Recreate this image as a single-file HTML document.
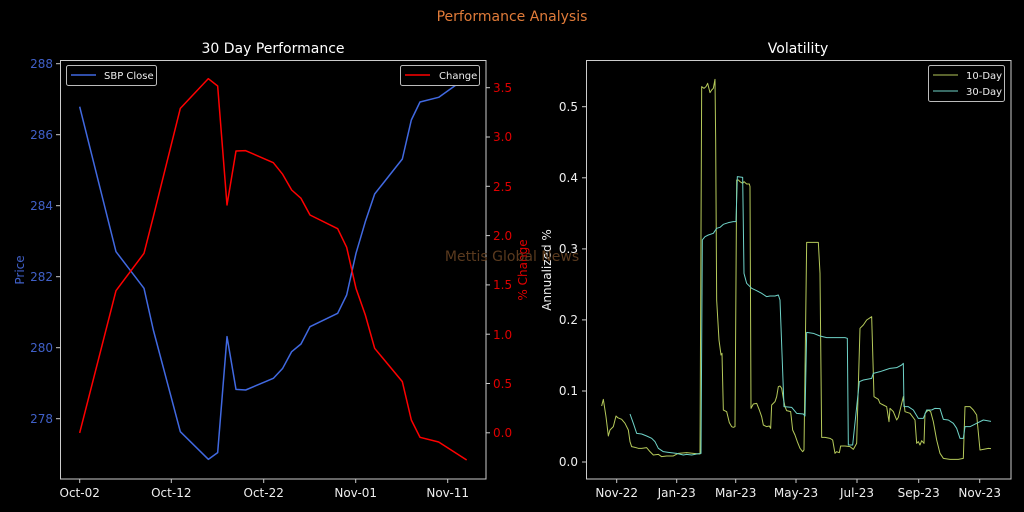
<!DOCTYPE html>
<html><head><meta charset="utf-8"><style>
body{margin:0;background:#000;width:1024px;height:512px;overflow:hidden}
svg{display:block}
text{font-family:"DejaVu Sans","Liberation Sans",sans-serif}
</style></head><body>
<svg width="1024" height="512" viewBox="0 0 1024 512" xmlns="http://www.w3.org/2000/svg">
<rect width="1024" height="512" fill="#000"/>
<text x="512" y="21" fill="#e07b39" font-size="14" text-anchor="middle">Performance Analysis</text>

<!-- LEFT -->
<text x="273" y="53" fill="#fff" font-size="14" text-anchor="middle">30 Day Performance</text>
<rect x="60.5" y="60.5" width="425.5" height="418.5" fill="none" stroke="#ccc" stroke-width="1"/>
<g fill="#4060c8" font-size="12" text-anchor="end">
<text x="53" y="68">288</text><text x="53" y="139">286</text><text x="53" y="210">284</text>
<text x="53" y="281">282</text><text x="53" y="352">280</text><text x="53" y="423">278</text>
</g>
<g stroke="#ccc"><line x1="56" y1="63.7" x2="60" y2="63.7"/><line x1="56" y1="134.7" x2="60" y2="134.7"/><line x1="56" y1="205.7" x2="60" y2="205.7"/><line x1="56" y1="276.7" x2="60" y2="276.7"/><line x1="56" y1="347.7" x2="60" y2="347.7"/><line x1="56" y1="418.7" x2="60" y2="418.7"/></g>
<g stroke="#ccc"><line x1="486" y1="87.7" x2="490" y2="87.7"/><line x1="486" y1="137" x2="490" y2="137"/><line x1="486" y1="186.3" x2="490" y2="186.3"/><line x1="486" y1="235.6" x2="490" y2="235.6"/><line x1="486" y1="284.9" x2="490" y2="284.9"/><line x1="486" y1="334.2" x2="490" y2="334.2"/><line x1="486" y1="383.5" x2="490" y2="383.5"/><line x1="486" y1="432.8" x2="490" y2="432.8"/></g>
<g fill="#e00000" font-size="12">
<text x="493" y="92">3.5</text><text x="493" y="141">3.0</text><text x="493" y="191">2.5</text><text x="493" y="240">2.0</text>
<text x="493" y="289">1.5</text><text x="493" y="339">1.0</text><text x="493" y="388">0.5</text><text x="493" y="437">0.0</text>
</g>
<text transform="translate(24,270) rotate(-90)" fill="#4060c8" font-size="12" text-anchor="middle">Price</text>
<text transform="translate(527,270) rotate(-90)" fill="#e00000" font-size="12" text-anchor="middle">% Change</text>
<g stroke="#ccc"><line x1="79.7" y1="479" x2="79.7" y2="483"/><line x1="171.3" y1="479" x2="171.3" y2="483"/><line x1="263.7" y1="479" x2="263.7" y2="483"/><line x1="355.7" y1="479" x2="355.7" y2="483"/><line x1="447.7" y1="479" x2="447.7" y2="483"/></g>
<g fill="#eee" font-size="12" text-anchor="middle">
<text x="79.7" y="497">Oct-02</text><text x="171.3" y="497">Oct-12</text><text x="263.7" y="497">Oct-22</text><text x="355.7" y="497">Nov-01</text><text x="447.7" y="497">Nov-11</text>
</g>
<g transform="translate(0,40) scale(0.33333)" fill="none" stroke-width="4.5" stroke-linejoin="round">
<polyline stroke="#4169e1" points="239,200 348,635 432,745 460,870 541,1175 625,1258 653,1238 681,890 708,1048 737,1050 820,1015 848,985 875,935 903,912 930,860 1013,820 1040,765 1068,640 1096,545 1124,462 1207,357 1234,240 1260,186 1316,172 1400,112"/>
<polyline stroke="#ff0000" points="239,1179 348,752 432,640 460,530 541,205 625,116 653,138 681,495 708,333 737,332 820,368 848,403 875,450 903,475 930,525 1013,566 1040,622 1068,745 1096,825 1124,925 1207,1025 1234,1140 1260,1192 1316,1206 1400,1260"/>
</g>
<rect x="66.5" y="65.5" width="90" height="20" rx="2" fill="#000" stroke="#bbb"/>
<line x1="71" y1="75" x2="96" y2="75" stroke="#4169e1" stroke-width="1.5"/>
<text x="104" y="79" fill="#eee" font-size="10">SBP Close</text>
<rect x="400.5" y="65.5" width="79" height="20" rx="2" fill="#000" stroke="#bbb"/>
<line x1="405" y1="75" x2="430" y2="75" stroke="#ff0000" stroke-width="1.5"/>
<text x="439" y="79" fill="#eee" font-size="10">Change</text>

<!-- RIGHT -->
<text x="798" y="53" fill="#fff" font-size="14" text-anchor="middle">Volatility</text>
<rect x="586.5" y="60.5" width="424.5" height="418.5" fill="none" stroke="#ccc"/>
<g fill="#eee" font-size="12" text-anchor="end">
<text x="578" y="111">0.5</text><text x="578" y="182">0.4</text><text x="578" y="253">0.3</text>
<text x="578" y="324">0.2</text><text x="578" y="395">0.1</text><text x="578" y="466">0.0</text>
</g>
<g stroke="#ccc"><line x1="582" y1="106.7" x2="586" y2="106.7"/><line x1="582" y1="177.8" x2="586" y2="177.8"/><line x1="582" y1="248.9" x2="586" y2="248.9"/><line x1="582" y1="319.9" x2="586" y2="319.9"/><line x1="582" y1="391" x2="586" y2="391"/><line x1="582" y1="462" x2="586" y2="462"/></g>
<text transform="translate(551,270) rotate(-90)" fill="#eee" font-size="12" text-anchor="middle">Annualized %</text>
<g stroke="#ccc"><line x1="616.7" y1="479" x2="616.7" y2="483"/><line x1="676.7" y1="479" x2="676.7" y2="483"/><line x1="735.7" y1="479" x2="735.7" y2="483"/><line x1="796" y1="479" x2="796" y2="483"/><line x1="857" y1="479" x2="857" y2="483"/><line x1="918.7" y1="479" x2="918.7" y2="483"/><line x1="979.7" y1="479" x2="979.7" y2="483"/></g>
<g fill="#eee" font-size="12" text-anchor="middle">
<text x="616.7" y="497">Nov-22</text><text x="676.7" y="497">Jan-23</text><text x="735.7" y="497">Mar-23</text><text x="796" y="497">May-23</text><text x="857" y="497">Jul-23</text><text x="918.7" y="497">Sep-23</text><text x="979.7" y="497">Nov-23</text>
</g>
<g transform="translate(520,40) scale(0.33333)" fill="none" stroke-width="3" stroke-linejoin="round">
<polyline stroke="#b5c95a" points="245,1098 250,1078 258,1130 265,1188 270,1170 280,1160 288,1128 293,1133 305,1138 315,1150 325,1170 330,1205 335,1220 345,1222 355,1225 365,1225 380,1223 390,1235 400,1245 415,1243 425,1250 440,1248 460,1248 475,1240 500,1238 520,1240 540,1242 545,140 552,145 558,140 563,130 570,158 575,150 580,145 585,118 587,300 590,780 597,900 603,945 606,940 610,1110 620,1115 628,1148 635,1160 640,1162 645,1160 650,420 655,420 660,425 668,430 672,425 680,432 688,432 690,440 693,1105 700,1092 710,1090 718,1110 725,1130 730,1155 740,1160 748,1158 752,1165 755,1095 765,1085 770,1070 775,1040 780,1038 785,1045 790,1075 795,1100 800,1112 812,1115 818,1170 825,1185 832,1205 840,1225 848,1235 852,1230 860,607 870,607 895,607 900,700 905,1192 915,1192 930,1195 938,1200 945,1240 950,1235 958,1238 962,1218 975,1218 990,1220 1000,1228 1010,1210 1020,865 1030,855 1040,840 1055,830 1062,1070 1075,1078 1080,1090 1090,1095 1100,1100 1107,1145 1110,1105 1120,1115 1130,1140 1135,1132 1150,1070 1155,1115 1170,1120 1185,1140 1190,1210 1195,1205 1200,1215 1205,1202 1212,1210 1215,1120 1225,1110 1232,1115 1240,1145 1250,1200 1260,1240 1270,1255 1290,1258 1315,1258 1330,1255 1335,1100 1350,1100 1360,1110 1370,1125 1380,1230 1390,1228 1405,1225 1413,1226"/>
<polyline stroke="#6fd3c8" points="330,1122 340,1150 350,1180 365,1182 380,1188 395,1195 405,1205 415,1225 430,1235 445,1237 470,1240 490,1245 500,1243 515,1245 530,1242 543,1240 547,600 555,590 565,585 580,580 590,565 600,562 610,553 625,548 640,545 648,545 652,410 668,412 672,700 680,730 695,745 710,752 725,760 740,770 750,768 765,768 775,765 780,780 792,1100 815,1102 830,1120 850,1122 855,1128 860,877 880,880 900,888 920,893 950,893 975,893 982,895 985,1215 998,1215 1018,1025 1030,1020 1040,1018 1055,1015 1060,1000 1080,995 1095,990 1110,985 1130,983 1145,975 1150,970 1152,1100 1165,1100 1180,1110 1195,1135 1210,1135 1220,1110 1235,1110 1245,1105 1260,1106 1270,1138 1285,1140 1300,1150 1310,1165 1320,1195 1330,1195 1335,1160 1350,1160 1370,1150 1390,1140 1413,1144"/>
</g>
<rect x="928.5" y="65.5" width="76" height="36" rx="2" fill="#000" stroke="#bbb"/>
<line x1="933" y1="75" x2="958" y2="75" stroke="#b5c95a"/>
<text x="966" y="79" fill="#eee" font-size="10">10-Day</text>
<line x1="933" y1="91" x2="958" y2="91" stroke="#6fd3c8"/>
<text x="966" y="95" fill="#eee" font-size="10">30-Day</text>

<text x="512" y="261" fill="#5a3a1e" font-size="14" text-anchor="middle">Mettis Global News</text>
</svg>
</body></html>
